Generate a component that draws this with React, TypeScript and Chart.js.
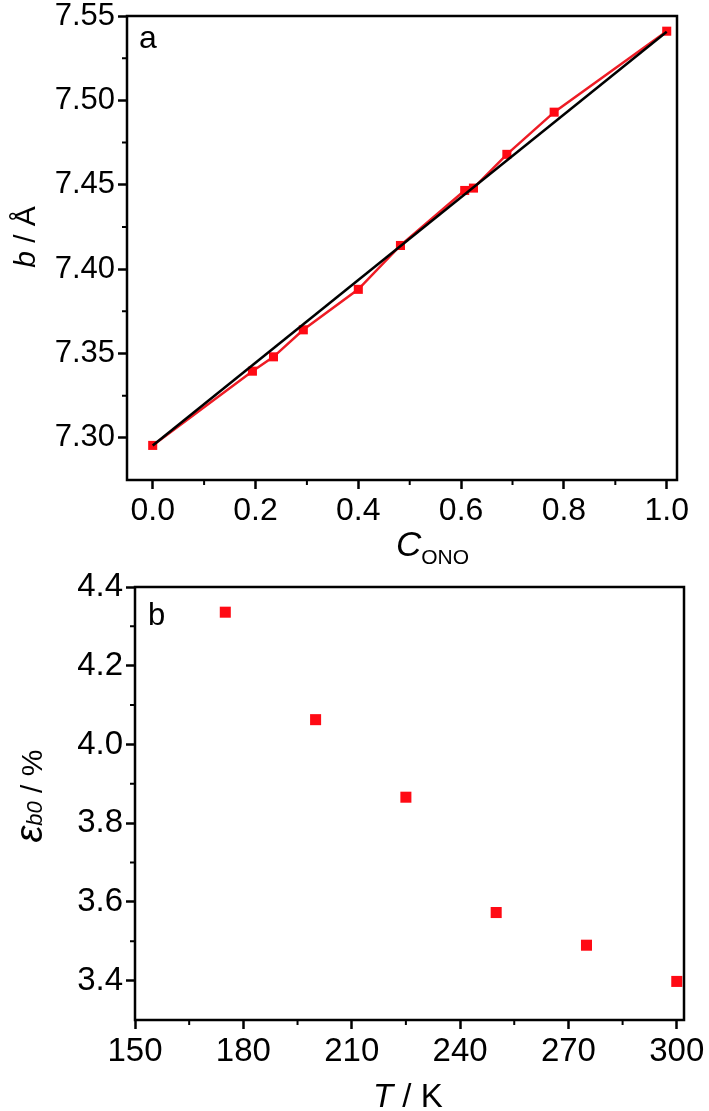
import React, { useEffect, useRef } from "react";
import { Chart, registerables } from "chart.js";

Chart.register(...registerables);

// ---------- Panel a data ----------
const cOno = [0, 0.194, 0.235, 0.293, 0.4, 0.482, 0.607, 0.624, 0.689, 0.781, 1.0];
const bLattice = [7.2955, 7.3395, 7.348, 7.364, 7.388, 7.414, 7.4466, 7.448, 7.468, 7.493, 7.541];
const fitX = [0, 1.0];
const fitY = [7.2955, 7.5407];
const topXTicks = [0, 0.2, 0.4, 0.6, 0.8, 1.0];
const topXMinor = [0.1, 0.3, 0.5, 0.7, 0.9];
const topYTicks = [7.3, 7.35, 7.4, 7.45, 7.5, 7.55];
const topYMinor = [7.325, 7.375, 7.425, 7.475, 7.525];

// ---------- Panel b data ----------
const temps = [175, 200, 225, 250, 275, 300];
const strain = [4.336, 4.063, 3.866, 3.573, 3.49, 3.398];
const botXTicks = [150, 180, 210, 240, 270, 300];
const botXMinor = [165, 195, 225, 255, 285];
const botYTicks = [3.4, 3.6, 3.8, 4.0, 4.2, 4.4];
const botYMinor = [3.5, 3.7, 3.9, 4.1, 4.3];

const FAMILY = "'Liberation Sans', Arial, Helvetica, sans-serif";

type Run = { text: string; font: string; dy?: number };

function drawRuns(ctx: CanvasRenderingContext2D, runs: Run[], x: number, y: number, center: boolean) {
  let total = 0;
  const widths = runs.map((r) => {
    ctx.font = r.font;
    const w = ctx.measureText(r.text).width;
    total += w;
    return w;
  });
  let cx = center ? x - total / 2 : x;
  runs.forEach((r, i) => {
    ctx.font = r.font;
    ctx.fillText(r.text, cx, y + (r.dy || 0));
    cx += widths[i];
  });
}

function makeDecor(minorX: number[], minorY: number[], drawText: (ctx: CanvasRenderingContext2D, chart: any) => void) {
  return {
    id: "decor",
    afterDraw(chart: any) {
      const ctx: CanvasRenderingContext2D = chart.ctx;
      const ca = chart.chartArea;
      const xs = chart.scales.x;
      const ys = chart.scales.y;
      ctx.save();
      ctx.strokeStyle = "#000";
      ctx.lineWidth = 2;
      ctx.beginPath();
      minorX.forEach((v) => {
        const px = xs.getPixelForValue(v);
        ctx.moveTo(px, ca.bottom);
        ctx.lineTo(px, ca.bottom + 5);
      });
      minorY.forEach((v) => {
        const py = ys.getPixelForValue(v);
        ctx.moveTo(ca.left - 5, py);
        ctx.lineTo(ca.left, py);
      });
      ctx.stroke();
      ctx.lineWidth = 2.5;
      ctx.strokeRect(ca.left, ca.top, ca.right - ca.left, ca.bottom - ca.top);
      ctx.fillStyle = "#000";
      ctx.textBaseline = "alphabetic";
      ctx.textAlign = "left";
      drawText(ctx, chart);
      ctx.restore();
    },
  };
}

function axisCommon(size: number, fmt: (v: number) => string, ticksList: number[], fitFn: (s: any) => void) {
  return {
    type: "linear" as const,
    afterBuildTicks: (s: any) => {
      s.ticks = ticksList.map((v) => ({ value: v }));
    },
    afterFit: fitFn,
    ticks: {
      callback: (v: any) => fmt(Number(v)),
      font: { family: FAMILY, size },
      color: "#000",
      padding: 3,
      maxRotation: 0,
      minRotation: 0,
      autoSkip: false,
    },
    grid: {
      display: true,
      drawOnChartArea: false,
      drawTicks: true,
      tickLength: 9,
      tickWidth: 2.5,
      tickColor: "#000",
    },
    border: { display: false },
  };
}

export default function App() {
  const topRef = useRef<HTMLCanvasElement | null>(null);
  const botRef = useRef<HTMLCanvasElement | null>(null);

  useEffect(() => {
    if (!topRef.current || !botRef.current) return;

    const topDecor = makeDecor(topXMinor, topYMinor, (ctx) => {
      // panel label
      ctx.font = `32px ${FAMILY}`;
      ctx.fillText("a", 139, 48);
      // x title
      drawRuns(
        ctx,
        [
          { text: "C", font: `italic 35px ${FAMILY}` },
          { text: "ONO", font: `21px ${FAMILY}`, dy: 8 },
        ],
        396,
        556,
        false
      );
      // y title
      ctx.save();
      ctx.translate(35, 237);
      ctx.rotate(-Math.PI / 2);
      drawRuns(
        ctx,
        [
          { text: "b", font: `italic 30px ${FAMILY}` },
          { text: " / Å", font: `30px ${FAMILY}` },
        ],
        0,
        0,
        true
      );
      ctx.restore();
    });

    const topChart = new Chart(topRef.current, {
      type: "line",
      data: {
        datasets: [
          {
            data: fitX.map((x, i) => ({ x, y: fitY[i] })),
            borderColor: "#000",
            borderWidth: 2.5,
            pointRadius: 0,
            fill: false,
          },
          {
            data: cOno.map((x, i) => ({ x, y: bLattice[i] })),
            borderColor: "#ee1c25",
            borderWidth: 2.5,
            pointStyle: "rect",
            pointRadius: 6.4,
            pointBackgroundColor: "#ff0a14",
            pointBorderColor: "#ff0a14",
            pointBorderWidth: 0,
            fill: false,
          },
        ],
      },
      options: {
        animation: false,
        responsive: false,
        devicePixelRatio: 1,
        layout: { padding: { left: 0, right: 32, top: 16, bottom: 0 } },
        plugins: { legend: { display: false }, tooltip: { enabled: false } },
        scales: {
          x: {
            ...axisCommon(32, (v) => v.toFixed(1), topXTicks, (s: any) => {
              s.height = 92;
              s.paddingLeft = 0;
              s.paddingRight = 0;
            }),
            min: -0.05,
            max: 1.02,
          },
          y: {
            ...axisCommon(31, (v) => v.toFixed(2), topYTicks, (s: any) => {
              s.width = 127;
              s.paddingTop = 0;
              s.paddingBottom = 0;
            }),
            min: 7.275,
            max: 7.55,
          },
        },
      } as any,
      plugins: [topDecor as any],
    });

    const botDecor = makeDecor(botXMinor, botYMinor, (ctx) => {
      ctx.font = `31px ${FAMILY}`;
      ctx.fillText("b", 148, 65);
      drawRuns(
        ctx,
        [
          { text: "T", font: `italic 33px ${FAMILY}` },
          { text: " / K", font: `33px ${FAMILY}` },
        ],
        373,
        547,
        false
      );
      ctx.save();
      ctx.translate(42, 236);
      ctx.rotate(-Math.PI / 2);
      drawRuns(
        ctx,
        [
          { text: "ε", font: `italic 38px ${FAMILY}` },
          { text: "b0", font: `italic 22px ${FAMILY}` },
          { text: " / %", font: `30px ${FAMILY}` },
        ],
        0,
        0,
        true
      );
      ctx.restore();
    });

    const botChart = new Chart(botRef.current, {
      type: "scatter",
      data: {
        datasets: [
          {
            data: temps.map((x, i) => ({ x, y: strain[i] })),
            showLine: false,
            pointStyle: "rect",
            pointRadius: 7.8,
            pointBackgroundColor: "#ff0a14",
            pointBorderColor: "#ff0a14",
            pointBorderWidth: 0,
          },
        ],
      },
      options: {
        animation: false,
        responsive: false,
        devicePixelRatio: 1,
        layout: { padding: { left: 0, right: 25, top: 27, bottom: 0 } },
        plugins: { legend: { display: false }, tooltip: { enabled: false } },
        scales: {
          x: {
            ...axisCommon(33, (v) => String(Math.round(v)), botXTicks, (s: any) => {
              s.height = 91;
              s.paddingLeft = 0;
              s.paddingRight = 0;
            }),
            min: 150,
            max: 302,
          },
          y: {
            ...axisCommon(33, (v) => v.toFixed(1), botYTicks, (s: any) => {
              s.width = 135;
              s.paddingTop = 0;
              s.paddingBottom = 0;
            }),
            min: 3.3,
            max: 4.4,
          },
        },
      } as any,
      plugins: [botDecor as any],
    });

    return () => {
      topChart.destroy();
      botChart.destroy();
    };
  }, []);

  return (
    <div style={{ position: "absolute", left: 0, top: 0, width: 709, height: 1111, background: "#fff" }}>
      <canvas
        ref={botRef}
        width={709}
        height={551}
        style={{ position: "absolute", left: 0, top: 560, width: 709, height: 551, display: "block" }}
      />
      <canvas
        ref={topRef}
        width={709}
        height={572}
        style={{ position: "absolute", left: 0, top: 0, width: 709, height: 572, display: "block" }}
      />
    </div>
  );
}
